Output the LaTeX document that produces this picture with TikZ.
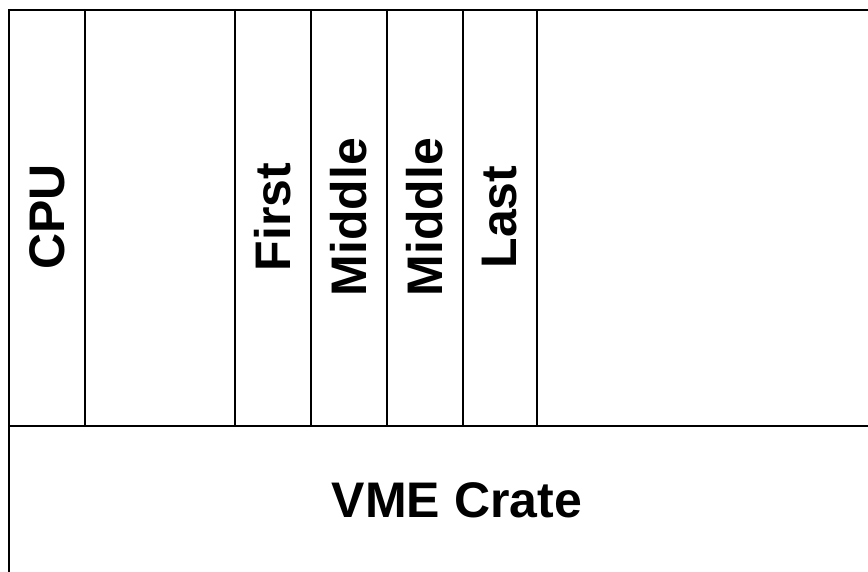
\documentclass[tikz,border=0pt]{standalone}
\usepackage{fontspec}
\setmainfont{Liberation Sans}
\tikzset{
    slotlabel/.style={rotate=90, font=\fontsize{50}{60}\selectfont\bfseries},
    cratelabel/.style={font=\fontsize{50}{60}\selectfont\bfseries}
}
\begin{document}
\begin{tikzpicture}[x=1pt, y=-1pt, line width=2pt]
            \useasboundingbox (0, 0) rectangle (868, 572);
            \clip (0, 0) rectangle (868, 572);

            \draw (9, 580) -- (9, 10) -- (880, 10);
            \draw (9, 426) -- (880, 426);

            \foreach \x in {85, 235, 311, 387, 463, 537}
                {
                    \draw (\x, 10) -- (\x, 426);
                }

            \foreach \x / \t / \n in {47/CPU/cpu, 273/First/first, 349/Middle/middleA, 425/Middle/middleB, 500/Last/last}
                {
                    \node[slotlabel] (\n) at (\x, 217){\t};
                }

            \node[cratelabel] (crate) at (457, 500){VME Crate};

        \end{tikzpicture}
\end{document}
